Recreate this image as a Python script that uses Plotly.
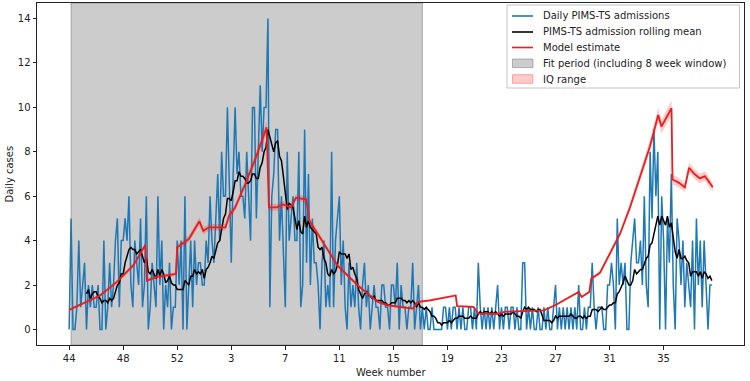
import plotly.graph_objects as go
import pandas as pd

# ---------------- data ----------------
week_tick_days = [0, 28, 56, 84, 112, 140, 168, 196, 224, 252, 280, 308]
week_tick_labels = ["44", "48", "52", "3", "7", "11", "15", "19", "23", "27", "31", "35"]

daily_admissions = [
    0, 5, 0, 0, 1, 4, 1, 2, 3, 0,
    2, 1, 2, 1, 1, 2, 0, 0, 4, 0,
    1, 3, 1, 2, 4, 5, 1, 4, 4, 5,
    4, 6, 2, 1, 4, 3, 2, 5, 1, 2,
    6, 0, 1, 3, 2, 1, 6, 2, 4, 0,
    2, 1, 3, 0, 1, 1, 4, 2, 4, 0,
    6, 0, 2, 4, 1, 4, 2, 3, 3, 2,
    2, 4, 3, 6, 4, 3, 5, 7, 4, 8,
    6, 6, 10, 6, 3, 7, 10, 7, 8, 6,
    6, 5, 8, 6, 4, 10, 10, 5, 8, 11,
    8, 10, 10, 14, 1, 6, 7, 9, 9, 4,
    6, 3, 1, 8, 4, 5, 6, 4, 4, 8,
    1, 2, 9, 3, 7, 2, 5, 3, 3, 2,
    0, 3, 4, 1, 2, 1, 8, 1, 4, 5,
    6, 2, 4, 1, 0, 3, 1, 2, 1, 3,
    1, 0, 2, 3, 1, 2, 0, 1, 2, 1,
    1, 0, 2, 2, 1, 1, 0, 2, 2, 1,
    3, 0, 2, 1, 1, 0, 1, 1, 3, 0,
    1, 2, 0, 1, 0, 1, 0, 0, 1, 0,
    0, 0, 0, 0, 1, 1, 0, 1, 0, 1,
    1, 0, 1, 0, 1, 0, 0, 1, 1, 0,
    1, 0, 3, 1, 0, 1, 0, 1, 0, 1,
    0, 1, 2, 0, 1, 0, 1, 1, 0, 1,
    1, 0, 1, 0, 0, 3, 3, 0, 1, 0,
    1, 0, 0, 1, 0, 0, 1, 0, 1, 0,
    0, 1, 2, 0, 1, 0, 1, 0, 1, 0,
    1, 0, 1, 0, 2, 0, 0, 1, 0, 1,
    1, 3, 1, 0, 1, 1, 1, 0, 0, 2,
    2, 3, 2, 0, 5, 2, 3, 2, 3, 0,
    0, 3, 4, 5, 3, 3, 4, 2, 6, 2,
    1, 8, 5, 9, 6, 8, 0, 6, 4, 0,
    5, 3, 7, 2, 0, 5, 4, 2, 4, 1,
    3, 2, 1, 4, 0, 5, 2, 4, 1, 4,
    2, 0, 2, 2,
]
rolling_window_days = 10

fit_start_day = 1
fit_end_day = 183

model_days = [
    0, 9, 16, 24.6, 33.2, 39.5, 40.3, 45, 52, 55.3,
    56, 62, 67.5, 69.5, 72.5, 81, 83, 86, 91.5, 97,
    102.3, 103.5, 107.5, 111, 115, 117.5, 122.8, 124.5, 130.5, 139,
    149.6, 160, 165, 178, 181, 187, 200.3, 201, 209.5, 212,
    222, 226, 246, 252, 264, 265.5, 269.5, 270.5, 275, 280,
    285.4, 290.6, 295.7, 300.9, 305.2, 306.9, 312.1, 312.6, 316, 319,
    321.2, 324, 326.8, 329.4, 333.5,
]
model_values = [
    0.88, 1.24, 1.53, 2.13, 2.88, 3.8, 2.2, 2.36, 2.45, 2.5,
    3.7, 4.07, 4.87, 4.44, 4.6, 4.6, 5.15, 5.49, 6.6, 7.8,
    9.1, 5.5, 5.5, 5.63, 5.49, 5.93, 5.86, 4.89, 4.07, 2.88,
    1.98, 1.24, 1.09, 0.94, 1.24, 1.31, 1.53, 1.05, 1.02, 0.72,
    0.7, 0.8, 0.86, 1.1, 1.69, 1.46, 1.69, 2.28, 2.55, 3.4,
    4.3, 5.5, 6.9, 8.24, 9.66, 9.14, 9.96, 6.75, 6.6, 6.4,
    7.28, 7.0, 6.8, 6.9, 6.4,
]
model_iq_half = [
    0.05, 0.06, 0.07, 0.08, 0.1, 0.12, 0.08, 0.08, 0.08, 0.08,
    0.15, 0.15, 0.18, 0.15, 0.15, 0.15, 0.17, 0.18, 0.2, 0.25,
    0.3, 0.15, 0.15, 0.15, 0.15, 0.15, 0.15, 0.15, 0.13, 0.1,
    0.07, 0.05, 0.05, 0.05, 0.05, 0.05, 0.05, 0.04, 0.04, 0.03,
    0.03, 0.03, 0.03, 0.04, 0.05, 0.05, 0.05, 0.07, 0.08, 0.1,
    0.13, 0.17, 0.22, 0.27, 0.32, 0.3, 0.35, 0.22, 0.22, 0.2,
    0.24, 0.22, 0.22, 0.22, 0.2,
]

legend_labels = [
    "Daily PIMS-TS admissions",
    "PIMS-TS admission rolling mean",
    "Model estimate",
    "Fit period (including 8 week window)",
    "IQ range",
]

# ---------------- styling ----------------
FONT = "DejaVu Sans"
TXT = "#222"
BLUE = "#1f77b4"
RED = "#ee1c1c"
GREY_FILL = "rgba(128,128,128,0.4)"
PINK_FILL = "rgba(255,0,0,0.2)"

W, H = 750, 381
PL, PR, PT, PB = 37, 744, 3, 345   # plot area in pixels


def px(x):
    return (x - PL) / (PR - PL)


def py(y):
    return (PB - y) / (PB - PT)


# ---------------- figure ----------------
days = list(range(len(daily_admissions)))
rolling_mean = pd.Series(daily_admissions).rolling(rolling_window_days).mean()
iq_low = [v - h for v, h in zip(model_values, model_iq_half)]
iq_high = [v + h for v, h in zip(model_values, model_iq_half)]

fig = go.Figure()

fig.add_trace(go.Scatter(x=days, y=daily_admissions, mode="lines",
                         line=dict(color=BLUE, width=1.5), showlegend=False))
fig.add_trace(go.Scatter(x=days, y=rolling_mean, mode="lines",
                         line=dict(color="black", width=1.5), showlegend=False))
fig.add_trace(go.Scatter(x=model_days, y=iq_low, mode="lines", line=dict(width=0),
                         showlegend=False, hoverinfo="skip"))
fig.add_trace(go.Scatter(x=model_days, y=iq_high, mode="lines", line=dict(width=0),
                         fill="tonexty", fillcolor=PINK_FILL, showlegend=False))
fig.add_trace(go.Scatter(x=model_days, y=model_values, mode="lines",
                         line=dict(color=RED, width=1.8), showlegend=False))

shapes = []
annotations = []

# fit period span
shapes.append(dict(type="rect", xref="x", yref="y domain", x0=fit_start_day, x1=fit_end_day,
                   y0=0, y1=1, fillcolor=GREY_FILL,
                   line=dict(color="rgba(110,110,110,0.5)", width=1), layer="below"))

# ---- legend (matplotlib style, compact) ----
shapes.append(dict(type="rect", xref="paper", yref="paper",
                   x0=px(507), x1=px(739.5), y0=py(88), y1=py(5),
                   fillcolor="rgba(255,255,255,0.85)", line=dict(color="#c4c4c4", width=1),
                   layer="above"))
row_y = [16, 32, 47.5, 63.3, 79]
handle_styles = [("line", BLUE), ("line", "black"), ("line", RED),
                 ("patch", GREY_FILL), ("patch", PINK_FILL)]
for label, yy, (kind, col) in zip(legend_labels, row_y, handle_styles):
    if kind == "line":
        shapes.append(dict(type="line", xref="paper", yref="paper",
                           x0=px(512), x1=px(533), y0=py(yy), y1=py(yy),
                           line=dict(color=col, width=1.6), layer="above"))
    else:
        edge = "rgba(128,128,128,0.55)" if col == GREY_FILL else "rgba(255,0,0,0.3)"
        shapes.append(dict(type="rect", xref="paper", yref="paper",
                           x0=px(512.5), x1=px(533), y0=py(yy + 4.3), y1=py(yy - 4.3),
                           fillcolor=col, line=dict(color=edge, width=1), layer="above"))
    annotations.append(dict(text=label, xref="paper", yref="paper",
                            x=px(541), y=py(yy), xanchor="left", yanchor="middle",
                            showarrow=False, font=dict(family=FONT, size=10, color=TXT)))

# axis titles
annotations.append(dict(text="Week number", xref="paper", yref="paper",
                        x=0.5, y=py(372), xanchor="center", yanchor="middle",
                        showarrow=False, font=dict(family=FONT, size=10, color=TXT)))
annotations.append(dict(text="Daily cases", xref="paper", yref="paper",
                        x=px(8.5), y=0.5, xanchor="center", yanchor="middle", textangle=-90,
                        showarrow=False, font=dict(family=FONT, size=10, color=TXT)))

n = len(daily_admissions) - 1
pad = 0.05 * n
fig.update_layout(
    width=W, height=H,
    margin=dict(l=PL, r=W - PR, t=PT, b=H - PB, pad=0),
    plot_bgcolor="white", paper_bgcolor="white",
    font=dict(family=FONT, size=10, color=TXT),
    showlegend=False,
    shapes=shapes,
    annotations=annotations,
    xaxis=dict(range=[-pad, n + pad], tickmode="array", tickvals=week_tick_days,
               ticktext=week_tick_labels, ticks="outside", ticklen=3.5, tickcolor=TXT,
               showline=True, linecolor=TXT, linewidth=1, mirror=True,
               showgrid=False, zeroline=False, automargin=False,
               tickfont=dict(family=FONT, size=10, color=TXT)),
    yaxis=dict(range=[-0.7, 14.7], tickmode="linear", tick0=0, dtick=2,
               ticks="outside", ticklen=3.5, tickcolor=TXT,
               showline=True, linecolor=TXT, linewidth=1, mirror=True,
               showgrid=False, zeroline=False, automargin=False,
               tickfont=dict(family=FONT, size=10, color=TXT)),
)

fig.write_html("out.html", config={"displayModeBar": False},
               post_script="document.body.style.margin='0';")
